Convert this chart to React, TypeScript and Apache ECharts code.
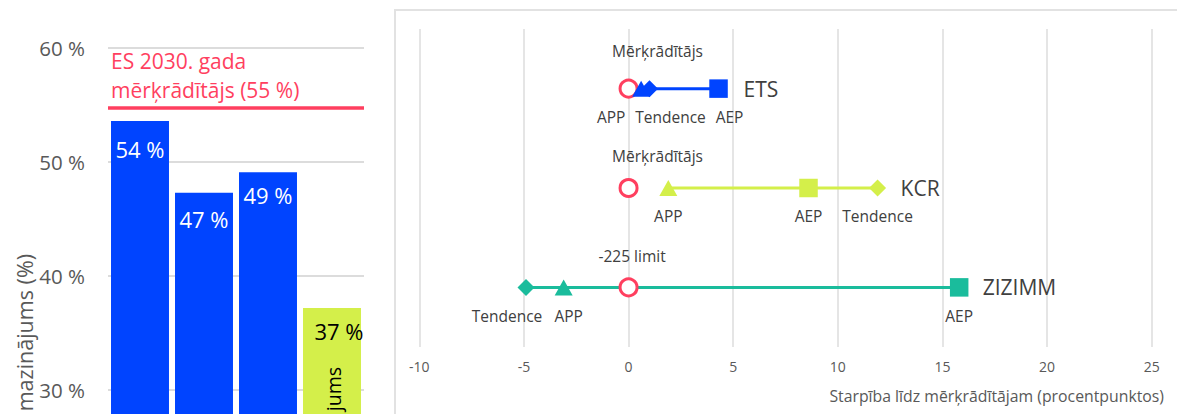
import React, { useEffect, useRef } from "react";
import * as echarts from "echarts";

// ---------- Left bar chart data ----------
const barCategories = ["ETS APP", "ETS Tendence", "ETS AEP", "Samazinājums"];
const barValues = [53.6, 47.3, 49.1, 37.2];
const leftAxisMin = 20;
const leftAxisMax = 60;
const leftAxisStep = 10;
const euTargetValue = 54.8;
const euTargetText = ["ES 2030. gada", "mērķrādītājs (55 %)"];
const leftAxisTitle = "mazinājums (%)";
const lastBarInsideText = "jums";

// ---------- Right dumbbell chart data ----------
const rowNames = ["ETS", "KCR", "ZIZIMM"];
const rowPositions = [3, 2, 1];
const markerNames = ["Mērķrādītājs", "APP", "Tendence", "AEP"];
const targetLabels = ["Mērķrādītājs", "Mērķrādītājs", "-225 limit"];
const targetValues = [0, 0, 0];
const appValues = [0.6, 1.9, -3.1];
const trendValues = [1.0, 11.9, -4.9];
const aepValues = [4.3, 8.6, 15.8];
const gapAxisMin = -10;
const gapAxisMax = 25;
const gapAxisStep = 5;
const gapAxisTitle = "Starpība līdz mērķrādītājam (procentpunktos)";

// ---------- Styles ----------
const FONT = "Open Sans";
const BLUE = "#0044ff";
const LIME = "#d4ef4a";
const TEAL = "#1abc9c";
const RED = "#ff3f5f";
const GRAY_TEXT = "#595959";
const DARK_TEXT = "#404040";
const GRID_LINE = "#dcdcdc";
const barColors = [BLUE, BLUE, BLUE, LIME];
const barLabelColors = ["#ffffff", "#ffffff", "#ffffff", "#000000"];
const barLabelOffsets = [[0, 3], [0, 1], [0, -2], [7, -2]];
const rowColors = [BLUE, LIME, TEAL];
const nameDistances = [25, 23, 23.5];
const targetLabelOffsets = [[29, -38], [29, -32], [3.5, -31.5]];
const appLabelOffsets = [[-30, 28.5], [0, 28], [5, 28.5]];
const trendLabelOffsets = [[21, 28.5], [0, 28], [-19, 28.5]];
const aepLabelOffsets = [[11, 28.5], [0, 28], [0, 28.5]];

function buildOption() {
  const pointLabel = {
    show: true,
    position: "inside",
    color: DARK_TEXT,
    fontSize: 15.5,
    fontFamily: FONT,
  };

  const lineSeries = rowNames.map((name, i) => {
    const xs = [appValues[i], trendValues[i], aepValues[i]];
    const lo = Math.min(...xs);
    const hi = Math.max(...xs);
    return {
      type: "line",
      name,
      xAxisIndex: 1,
      yAxisIndex: 1,
      z: 1,
      symbol: "none",
      data: [
        [lo, rowPositions[i]],
        [hi, rowPositions[i]],
      ],
      lineStyle: { color: rowColors[i], width: 3 },
      endLabel: {
        show: true,
        formatter: name,
        distance: nameDistances[i],
        color: DARK_TEXT,
        fontSize: 21,
        fontFamily: FONT,
      },
    };
  });

  const makeScatter = (
    name: string,
    values: number[],
    labels: string[],
    offsets: number[][],
    symbol: string,
    symbolSize: any,
    z: number,
    hollow: boolean
  ) => ({
    type: "scatter",
    name,
    xAxisIndex: 1,
    yAxisIndex: 1,
    z,
    symbol,
    symbolSize,
    data: values.map((v, i) => ({
      value: [v, rowPositions[i]],
      itemStyle: hollow
        ? { color: "#ffffff", borderColor: RED, borderWidth: 3, opacity: 1 }
        : { color: rowColors[i], opacity: 1 },
      label: { ...pointLabel, formatter: labels[i], offset: offsets[i] },
    })),
  });

  return {
    animation: false,
    textStyle: { fontFamily: FONT },
    grid: [
      { left: 108, width: 256, top: 48, bottom: -90, containLabel: false, outerBoundsMode: "none" },
      { left: 419.3, right: 25.3, top: 29, bottom: 67, containLabel: false, outerBoundsMode: "none" },
    ],
    xAxis: [
      {
        type: "category",
        gridIndex: 0,
        data: barCategories,
        show: false,
      },
      {
        type: "value",
        gridIndex: 1,
        min: gapAxisMin,
        max: gapAxisMax,
        interval: gapAxisStep,
        axisLine: { show: false },
        axisTick: { show: false },
        splitLine: { show: true, lineStyle: { color: GRID_LINE, width: 1.5 } },
        axisLabel: { color: GRAY_TEXT, fontSize: 14, margin: 12, fontFamily: FONT },
      },
    ],
    yAxis: [
      {
        type: "value",
        gridIndex: 0,
        min: leftAxisMin,
        max: leftAxisMax,
        interval: leftAxisStep,
        axisLine: { show: false },
        axisTick: { show: false },
        splitLine: { show: true, lineStyle: { color: GRID_LINE, width: 2 } },
        axisLabel: {
          formatter: "{value} %",
          color: GRAY_TEXT,
          fontSize: 20.5,
          margin: 23,
          fontFamily: FONT,
          showMinLabel: false,
        },
      },
      {
        type: "value",
        gridIndex: 1,
        min: 0.4,
        max: 3.6,
        show: false,
        splitLine: { show: false },
      },
    ],
    series: [
      {
        type: "bar",
        xAxisIndex: 0,
        yAxisIndex: 0,
        barCategoryGap: "9.4%",
        data: barValues.map((v, i) => ({
          value: v,
          itemStyle: { color: barColors[i] },
          label: {
            show: true,
            position: "insideTop",
            distance: 13,
            offset: barLabelOffsets[i],
            formatter: `${Math.round(v)} %`,
            color: barLabelColors[i],
            fontSize: 22,
            lineHeight: 24,
            fontFamily: FONT,
          },
        })),
        markLine: {
          silent: true,
          symbol: "none",
          data: [{ yAxis: euTargetValue }],
          lineStyle: { color: RED, width: 3.5, type: "solid" },
          label: {
            show: true,
            position: "insideStartTop",
            formatter: euTargetText.join("\n"),
            color: RED,
            fontSize: 21,
            lineHeight: 29,
            fontFamily: FONT,
            align: "left",
            distance: 3,
          },
        },
      },
      ...lineSeries,
      makeScatter(markerNames[0], targetValues, targetLabels, targetLabelOffsets, "circle", 17, 3, true),
      makeScatter(markerNames[1], appValues, rowNames.map(() => markerNames[1]), appLabelOffsets, "triangle", [18, 16], 4, false),
      makeScatter(markerNames[2], trendValues, rowNames.map(() => markerNames[2]), trendLabelOffsets, "diamond", [17, 17], 5, false),
      makeScatter(markerNames[3], aepValues, rowNames.map(() => markerNames[3]), aepLabelOffsets, "rect", 18.5, 6, false),
    ],
    graphic: [
      {
        type: "rect",
        silent: true,
        z: -10,
        shape: { x: 395, y: 10, width: 900, height: 600 },
        style: { fill: "none", stroke: "#e2e2e2", lineWidth: 2 },
      },
      {
        type: "text",
        silent: true,
        z: 100,
        x: 24,
        y: 254,
        rotation: Math.PI / 2,
        style: {
          text: leftAxisTitle,
          fill: GRAY_TEXT,
          fontSize: 21.5,
          fontFamily: FONT,
          align: "right",
          verticalAlign: "middle",
        },
      },
      {
        type: "text",
        silent: true,
        z: 100,
        x: 333,
        y: 367,
        rotation: Math.PI / 2,
        style: {
          text: lastBarInsideText,
          fill: "#000000",
          fontSize: 19.5,
          fontFamily: FONT,
          align: "right",
          verticalAlign: "middle",
        },
      },
      {
        type: "text",
        silent: true,
        z: 100,
        right: 13,
        top: 388,
        style: {
          text: gapAxisTitle,
          fill: GRAY_TEXT,
          fontSize: 15.8,
          fontFamily: FONT,
        },
      },
    ],
  };
}

export default function App() {
  const ref = useRef<HTMLDivElement>(null);
  useEffect(() => {
    if (!ref.current) return;
    const chart = echarts.init(ref.current, null, { renderer: "svg" });
    chart.setOption(buildOption() as any);
    return () => chart.dispose();
  }, []);
  return (
    <div
      style={{
        position: "fixed",
        left: 0,
        top: 0,
        width: 1177,
        height: 414,
        overflow: "hidden",
        background: "#ffffff",
      }}
    >
      <div ref={ref} style={{ width: 1177, height: 414 }} />
    </div>
  );
}
